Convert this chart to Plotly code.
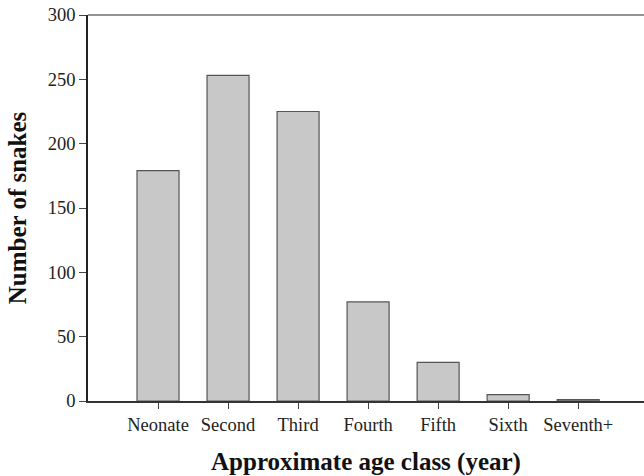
import plotly.graph_objects as go

# Age-class counts of snakes
age_classes = ["Neonate", "Second", "Third", "Fourth", "Fifth", "Sixth", "Seventh+"]
snake_counts = [179, 253, 225, 77, 30, 5, 1]
y_ticks = [0, 50, 100, 150, 200, 250, 300]

serif = "Liberation Serif, Times New Roman, serif"

fig = go.Figure(
    go.Bar(
        x=age_classes,
        y=snake_counts,
        width=0.6,
        marker=dict(color="#c8c8c8", line=dict(color="#555555", width=1.2)),
    )
)

fig.update_layout(
    width=644,
    height=476,
    margin=dict(l=88, r=0, t=15, b=75),
    paper_bgcolor="white",
    plot_bgcolor="white",
    showlegend=False,
    bargap=0.4,
    font=dict(family=serif, color="#222222"),
    shapes=[
        # thin grey frame line along the top of the plot area
        dict(type="line", xref="paper", yref="paper", x0=0, x1=1, y0=1, y1=1,
             line=dict(color="#707070", width=1.5)),
    ],
)

fig.update_xaxes(
    type="category",
    range=[-1, 6.94],
    showline=True,
    linecolor="#333333",
    linewidth=1.5,
    ticks="outside",
    ticklen=6,
    tickwidth=1,
    tickcolor="#444444",
    tickfont=dict(size=18.5, family=serif, color="#222222"),
    showgrid=False,
    title=dict(
        text="<b>Approximate age class (year)</b>",
        font=dict(size=25, family=serif, color="#111111"),
        standoff=19,
    ),
)

fig.update_yaxes(
    range=[0, 300],
    tickvals=y_ticks,
    showline=True,
    linecolor="#222222",
    linewidth=1.5,
    ticks="outside",
    ticklen=7,
    tickwidth=1,
    tickcolor="#444444",
    tickfont=dict(size=18.5, family=serif, color="#222222"),
    showgrid=False,
    zeroline=False,
    title=dict(
        text="<b>Number of snakes</b>",
        font=dict(size=25, family=serif, color="#111111"),
        standoff=14,
    ),
)

fig.write_html("out.html")
